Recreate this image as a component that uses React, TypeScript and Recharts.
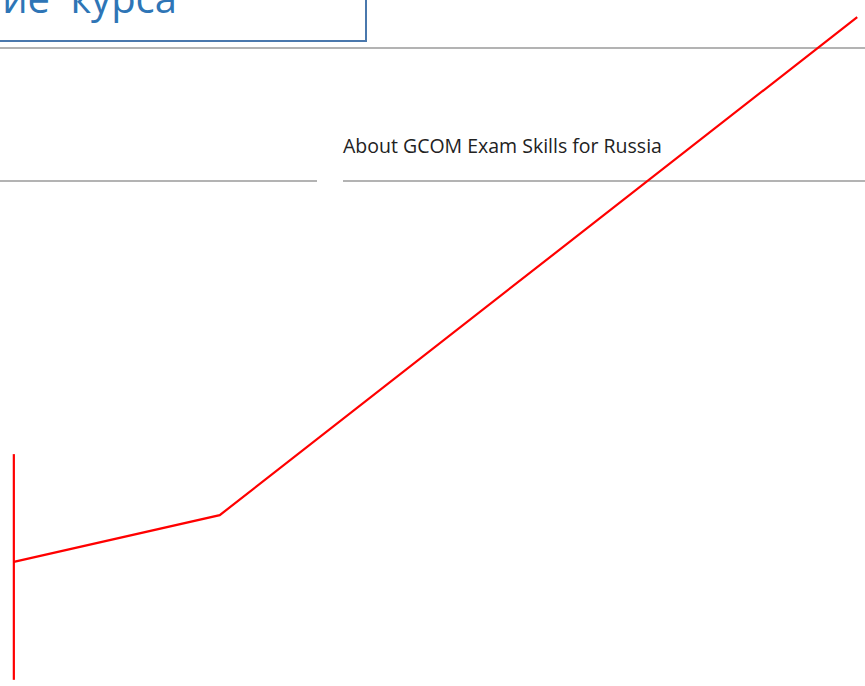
import { LineChart, Line, XAxis, YAxis } from 'recharts';

// trend line (x: 0..100 across, y: 0..100 up)
const trendX = [1.6, 25.4, 99.1];
const trendY = [18.1, 24.9, 97.5];

// vertical marker at the left
const markerX = [1.6, 1.6];
const markerY = [33.8, 0.9];

const heading = 'Описание курса';
const caption = 'About GCOM Exam Skills for Russia';

const trendData = trendX.map((x, i) => ({ x, y: trendY[i] }));
const markerData = markerX.map((x, i) => ({ x, y: markerY[i] }));

export default function App() {
  return (
    <div
      style={{
        position: 'absolute',
        left: 0,
        top: 0,
        width: 865,
        height: 686,
        overflow: 'hidden',
        background: '#fff',
      }}
    >
      {/* document background */}
      <div
        style={{
          position: 'absolute',
          left: -200,
          top: -38,
          width: 567,
          height: 80,
          border: '2px solid #4a78ad',
          boxSizing: 'border-box',
        }}
      />
      <div
        style={{
          position: 'absolute',
          right: 688,
          top: -30,
          whiteSpace: 'nowrap',
          fontFamily: '"Open Sans", sans-serif',
          fontSize: 40,
          wordSpacing: 10,
          color: '#2e75b6',
        }}
      >
        {heading}
      </div>
      <div style={{ position: 'absolute', left: 0, top: 47, width: 865, height: 2, background: '#b3b3b3' }} />
      <div
        style={{
          position: 'absolute',
          left: 343,
          top: 132,
          whiteSpace: 'nowrap',
          fontFamily: '"Open Sans", sans-serif',
          fontSize: 19.5,
          color: '#222',
        }}
      >
        {caption}
      </div>
      <div style={{ position: 'absolute', left: 0, top: 180, width: 317, height: 2, background: '#b3b3b3' }} />
      <div style={{ position: 'absolute', left: 343, top: 180, width: 522, height: 2, background: '#b3b3b3' }} />

      <LineChart
        width={865}
        height={686}
        margin={{ top: 0, right: 0, bottom: 0, left: 0 }}
        style={{ position: 'absolute', left: 0, top: 0 }}
      >
        <XAxis type="number" dataKey="x" domain={[0, 100]} hide />
        <YAxis type="number" dataKey="y" domain={[0, 100]} hide />
        <Line
          data={markerData}
          dataKey="y"
          type="linear"
          stroke="#ff0000"
          strokeWidth={2.2}
          dot={false}
          activeDot={false}
          isAnimationActive={false}
        />
        <Line
          data={trendData}
          dataKey="y"
          type="linear"
          stroke="#ff0000"
          strokeWidth={2.2}
          dot={false}
          activeDot={false}
          isAnimationActive={false}
        />
      </LineChart>
    </div>
  );
}
